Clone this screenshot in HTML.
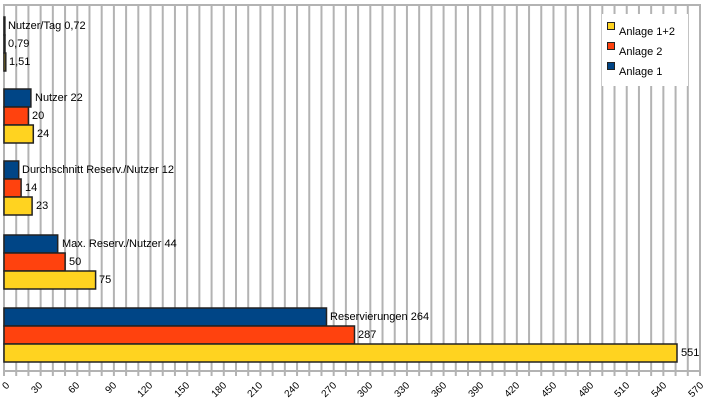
<!DOCTYPE html>
<html><head><meta charset="utf-8"><style>
html,body{margin:0;padding:0;background:#fff;width:705px;height:413px;overflow:hidden}
svg{display:block;font-family:"Liberation Sans",sans-serif;font-size:11px}
</style></head><body>
<svg id="s" width="705" height="413" viewBox="0 0 705 413">
<g id="grid"></g>
<rect x="4" y="5" width="696" height="366" fill="none" stroke="#b3b3b3" stroke-width="2"/>
<rect x="602" y="14" width="86" height="72" fill="#fff"/>
<g stroke="#222" stroke-width="1.5">
<rect x="4" y="17" width="0.9" height="18" fill="#004586"/>
<rect x="4" y="35" width="1" height="18" fill="#ff420e"/>
<rect x="4" y="53" width="1.8" height="18" fill="#ffd320"/>
<rect x="4" y="89" width="26.9" height="18" fill="#004586"/>
<rect x="4" y="107" width="24.4" height="18" fill="#ff420e"/>
<rect x="4" y="125" width="29.3" height="18" fill="#ffd320"/>
<rect x="4" y="161" width="14.7" height="18" fill="#004586"/>
<rect x="4" y="179" width="17.1" height="18" fill="#ff420e"/>
<rect x="4" y="197" width="28.1" height="18" fill="#ffd320"/>
<rect x="4" y="235" width="53.7" height="18" fill="#004586"/>
<rect x="4" y="253" width="61.1" height="18" fill="#ff420e"/>
<rect x="4" y="271" width="91.6" height="18" fill="#ffd320"/>
<rect x="4" y="308" width="322.5" height="18" fill="#004586"/>
<rect x="4" y="326" width="350.5" height="18" fill="#ff420e"/>
<rect x="4" y="344" width="673" height="18" fill="#ffd320"/>
</g>
<g fill="#000" dominant-baseline="middle">
<text x="8" y="26">Nutzer/Tag 0,72</text>
<text x="8" y="44">0,79</text>
<text x="9" y="62">1,51</text>
<text x="35" y="98">Nutzer 22</text>
<text x="32" y="116">20</text>
<text x="37" y="134">24</text>
<text x="22" y="170">Durchschnitt Reserv./Nutzer 12</text>
<text x="25" y="188">14</text>
<text x="36" y="206">23</text>
<text x="62" y="244">Max. Reserv./Nutzer 44</text>
<text x="69" y="262">50</text>
<text x="99" y="280">75</text>
<text x="330" y="317">Reservierungen 264</text>
<text x="358" y="335">287</text>
<text x="681" y="353">551</text>
</g>
<g stroke="#222" stroke-width="1">
<rect x="607.5" y="22.5" width="7" height="7" fill="#ffd320"/>
<rect x="607.5" y="42.5" width="7" height="7" fill="#ff420e"/>
<rect x="607.5" y="62.5" width="7" height="7" fill="#004586"/>
</g>
<g fill="#000">
<text x="619" y="35">Anlage 1+2</text>
<text x="619" y="55">Anlage 2</text>
<text x="619" y="75">Anlage 1</text>
</g>
<g id="lab" font-size="10" text-anchor="end">
<text transform="translate(10,386) rotate(-45)">0</text>
<text transform="translate(43,386) rotate(-45)">30</text>
<text transform="translate(80,386) rotate(-45)">60</text>
<text transform="translate(117,386) rotate(-45)">90</text>
<text transform="translate(153,386) rotate(-45)">120</text>
<text transform="translate(190,386) rotate(-45)">150</text>
<text transform="translate(227,386) rotate(-45)">180</text>
<text transform="translate(263,386) rotate(-45)">210</text>
<text transform="translate(300,386) rotate(-45)">240</text>
<text transform="translate(337,386) rotate(-45)">270</text>
<text transform="translate(373,386) rotate(-45)">300</text>
<text transform="translate(410,386) rotate(-45)">330</text>
<text transform="translate(447,386) rotate(-45)">360</text>
<text transform="translate(484,386) rotate(-45)">390</text>
<text transform="translate(520,386) rotate(-45)">420</text>
<text transform="translate(557,386) rotate(-45)">450</text>
<text transform="translate(594,386) rotate(-45)">480</text>
<text transform="translate(630,386) rotate(-45)">510</text>
<text transform="translate(667,386) rotate(-45)">540</text>
<text transform="translate(704,386) rotate(-45)">570</text>
</g>
</svg>
<script>
var g=document.getElementById('grid'),h='';
for(var i=1;i<57;i++){var x=4+i*696/57;
h+='<line x1="'+x+'" y1="5" x2="'+x+'" y2="376" stroke="#b3b3b3" stroke-width="2"/>';}
h+='<line x1="4" y1="5" x2="4" y2="376" stroke="#b3b3b3" stroke-width="2"/><line x1="700" y1="5" x2="700" y2="376" stroke="#b3b3b3" stroke-width="2"/>';
g.innerHTML=h;
</script>
</body></html>
